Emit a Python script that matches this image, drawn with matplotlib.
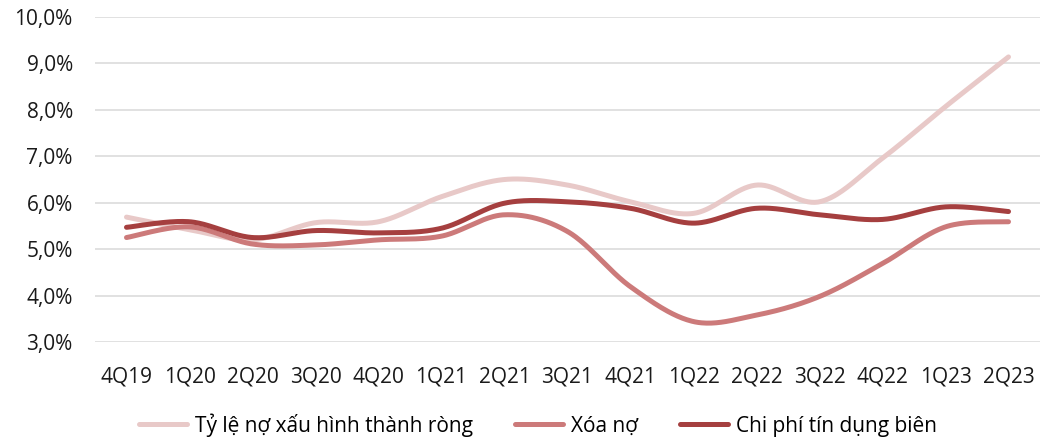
import numpy as np
import matplotlib
matplotlib.use("Agg")
import matplotlib.pyplot as plt
from matplotlib.ticker import FuncFormatter

quarters = ["4Q19", "1Q20", "2Q20", "3Q20", "4Q20", "1Q21", "2Q21", "3Q21",
            "4Q21", "1Q22", "2Q22", "3Q22", "4Q22", "1Q23", "2Q23"]

no_xau_rong = [5.69, 5.42, 5.20, 5.57, 5.59, 6.13, 6.50, 6.38,
               6.02, 5.77, 6.38, 6.02, 6.96, 8.07, 9.14]
xoa_no = [5.25, 5.48, 5.11, 5.09, 5.20, 5.28, 5.74, 5.38,
          4.19, 3.44, 3.58, 3.98, 4.69, 5.48, 5.59]
chi_phi_td = [5.47, 5.59, 5.25, 5.40, 5.35, 5.45, 5.99, 6.02,
              5.88, 5.56, 5.88, 5.74, 5.64, 5.91, 5.81]

series_names = ["Tỷ lệ nợ xấu hình thành ròng", "Xóa nợ", "Chi phí tín dụng biên"]
series_colors = ["#E8C9C8", "#CC7A7A", "#A53F3F"]


def smooth(xs, ys, n=40):
    """Cubic Bezier smoothing through every point (spreadsheet-style smoothed line)."""
    xs = np.asarray(xs, float)
    ys = np.asarray(ys, float)
    px = np.concatenate([[xs[0]], xs, [xs[-1]]])
    py = np.concatenate([[ys[0]], ys, [ys[-1]]])
    out_x, out_y = [], []
    t = np.linspace(0, 1, n)
    for i in range(1, len(px) - 2):
        p0 = np.array([px[i], py[i]])
        p3 = np.array([px[i + 1], py[i + 1]])
        c1 = p0 + (np.array([px[i + 1], py[i + 1]]) - np.array([px[i - 1], py[i - 1]])) / 6
        c2 = p3 - (np.array([px[i + 2], py[i + 2]]) - np.array([px[i], py[i]])) / 6
        b = ((1 - t) ** 3)[:, None] * p0 + (3 * (1 - t) ** 2 * t)[:, None] * c1 \
            + (3 * (1 - t) * t ** 2)[:, None] * c2 + (t ** 3)[:, None] * p3
        out_x.extend(b[:, 0])
        out_y.extend(b[:, 1])
    return np.array(out_x), np.array(out_y)


plt.rcParams["font.family"] = ["Open Sans", "DejaVu Sans"]

fig = plt.figure(figsize=(10.4, 4.4), dpi=100)
ax = fig.add_axes([95 / 1040, 1 - 342 / 440, 945 / 1040, 325 / 440])

x = np.arange(len(quarters))
for name, vals, col in zip(series_names, [no_xau_rong, xoa_no, chi_phi_td], series_colors):
    sx, sy = smooth(x, vals)
    ax.plot(sx, sy, color=col, lw=3.6, solid_capstyle="round", label=name, zorder=3)

ax.set_xlim(-0.5, 14.5)
ax.set_ylim(3, 10)
ax.set_yticks(np.arange(3, 10.01, 1))
ax.yaxis.set_major_formatter(FuncFormatter(lambda v, p: f"{v:.1f}%".replace(".", ",")))
ax.set_xticks(x)
ax.set_xticklabels(quarters)
ax.grid(axis="y", color="#D9D9D9", lw=1.1, zorder=0)
ax.set_axisbelow(True)
for s in ax.spines.values():
    s.set_visible(False)
ax.tick_params(axis="both", length=0, labelsize=15, colors="#1a1a1a")
ax.tick_params(axis="y", pad=16)
ax.tick_params(axis="x", pad=18)

fig.legend(loc="center", bbox_to_anchor=(538 / 1040, 1 - 425 / 440), ncol=3,
           frameon=False, fontsize=15, handlelength=2.3, handletextpad=0.4,
           columnspacing=2.0)

fig.savefig("out.png", dpi=100)
